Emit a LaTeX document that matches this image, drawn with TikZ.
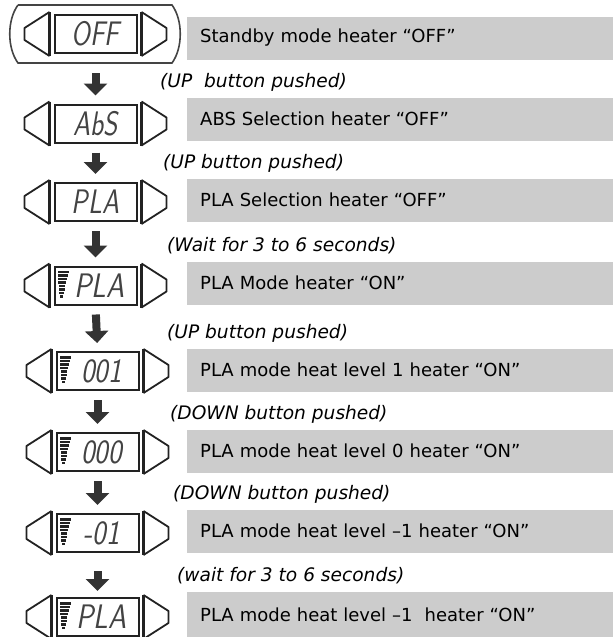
\documentclass[tikz,border=0pt]{standalone}
\usepackage{fontspec}
\setmainfont{DejaVu Sans}
\usepackage{graphicx}
\usetikzlibrary{arrows.meta}
\definecolor{boxgray}{HTML}{CCCCCC}
\definecolor{ink}{HTML}{222222}
\definecolor{arrowcol}{HTML}{333333}
\definecolor{framecol}{HTML}{444444}
\newcommand\dispunit[5]{%
  \node[dispbox] (#1) at (#2,#3) {};
  \draw[triline] ([xshift=-4pt,yshift=2pt]#1.north west) -- ([xshift=-29pt,yshift=6pt]#1.west)
        -- ([xshift=-29pt,yshift=-6pt]#1.west) -- ([xshift=-4pt,yshift=-2pt]#1.south west);
  \draw[triedge] ([xshift=-4pt,yshift=2pt]#1.north west) -- ([xshift=-4pt,yshift=-2pt]#1.south west);
  \draw[triline] ([xshift=4pt,yshift=2pt]#1.north east) -- ([xshift=29pt,yshift=6pt]#1.east)
        -- ([xshift=29pt,yshift=-6pt]#1.east) -- ([xshift=4pt,yshift=-2pt]#1.south east);
  \draw[triedge] ([xshift=4pt,yshift=2pt]#1.north east) -- ([xshift=4pt,yshift=-2pt]#1.south east);
  \ifnum#5=1
    \foreach \i in {0,...,7}{
      \fill[ink] ([xshift={4pt+0.3pt*\i},yshift={-5pt-3.5pt*\i}]#1.north west) rectangle ++({11-1.1*\i},2.7);
    }
    \node[disptext] (#1t) at ([xshift=4pt]#1.center) {\scalebox{0.85}[1]{#4}};
  \else
    \node[disptext] (#1t) at (#1.center) {\scalebox{0.8}[1]{#4}};
  \fi
}
\begin{document}
\begin{tikzpicture}[x=1pt,y=-1pt,
  dispbox/.style={draw=ink,line width=2pt,minimum width=82pt,minimum height=38pt,inner sep=0pt},
  disptext/.style={font=\sffamily\slshape\fontsize{34}{34}\selectfont,text=ink!85,inner sep=0pt},
  triline/.style={draw=ink,line width=1.8pt,line join=round},
  triedge/.style={draw=ink,line width=3pt},
  graybox/.style={fill=boxgray,anchor=west,minimum height=43pt,text width=400pt,inner xsep=13pt,inner ysep=0pt,align=left,font=\fontsize{18}{20}\selectfont},
  steplabel/.style={anchor=base west,inner sep=0pt,font=\itshape\fontsize{18.6}{20}\selectfont},
  downarrow/.style={draw=arrowcol,line width=8pt,-{Triangle[width=23pt,length=12pt]},shorten <=9pt,shorten >=8pt}
]
\useasboundingbox (0,0) rectangle (613,637);

% outer frame of the first display
\draw[framecol,line width=1.6pt] (18,5) -- (172,5) .. controls (183,20) and (183,48) .. (172,63)
   -- (18,63) .. controls (7,48) and (7,20) .. (18,5);

\dispunit{d1}{95.5}{34}{OFF}{0}
\dispunit{d2}{95.5}{123.5}{AbS}{0}
\dispunit{d3}{95.5}{202}{PLA}{0}
\dispunit{d4}{95.5}{285.5}{PLA}{1}
\dispunit{d5}{97.5}{371}{001}{1}
\dispunit{d6}{97.5}{452}{000}{1}
\dispunit{d7}{97.5}{533}{-01}{1}
\dispunit{d8}{97.5}{617}{PLA}{1}

\node[graybox] (t1) at (187,38) {Standby mode heater “OFF”};
\node[graybox] (t2) at (187,119) {ABS Selection heater “OFF”};
\node[graybox] (t3) at (187,200) {PLA Selection heater “OFF”};
\node[graybox] (t4) at (187,283) {PLA Mode heater “ON”};
\node[graybox] (t5) at (187,370) {PLA mode heat level 1 heater “ON”};
\node[graybox] (t6) at (187,451) {PLA mode heat level 0 heater “ON”};
\node[graybox] (t7) at (187,531) {PLA mode heat level –1 heater “ON”};
\node[graybox,minimum height=45pt] (t8) at (187,614.5) {PLA mode heat level –1\ \ heater “ON”};

\node[steplabel] (l2) at (160,87.5) {(UP\ \ button pushed)};
\node[steplabel] (l3) at (163,168.5) {(UP button pushed)};
\node[steplabel] (l4) at (167,251.5) {(Wait for 3 to 6 seconds)};
\node[steplabel] (l5) at (167,338.5) {(UP button pushed)};
\node[steplabel] (l6) at (170,419.5) {(DOWN button pushed)};
\node[steplabel] (l7) at (173,499.5) {(DOWN button pushed)};
\node[steplabel] (l8) at (177,581.5) {(wait for 3 to 6 seconds)};

\draw[downarrow,shorten <=19pt] (d1.south) -- (d2.north);
\draw[downarrow] (d2.south) -- (d3.north);
\draw[downarrow] (d3.south) -- (d4.north);
\draw[downarrow] (d4.south) -- (d5.north);
\draw[downarrow] (d5.south) -- (d6.north);
\draw[downarrow] (d6.south) -- (d7.north);
\draw[downarrow,shorten <=18pt,shorten >=6pt] (d7.south) -- (d8.north);
\end{tikzpicture}
\end{document}
